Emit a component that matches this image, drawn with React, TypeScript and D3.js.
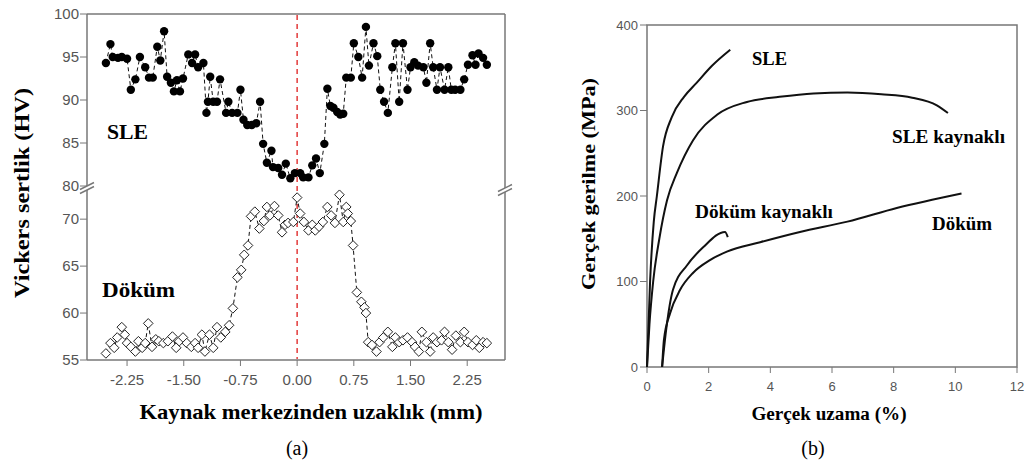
import React from 'react';
import * as d3 from 'd3';

// (a) Vickers hardness across the weld
const sleX = [-2.53,-2.47,-2.44,-2.37,-2.32,-2.25,-2.20,-2.14,-2.08,-2.01,-1.96,-1.91,-1.85,-1.81,-1.76,-1.72,-1.67,-1.63,-1.59,-1.55,-1.51,-1.44,-1.39,-1.35,-1.31,-1.24,-1.20,-1.18,-1.15,-1.11,-1.06,-1.02,-0.94,-0.91,-0.86,-0.79,-0.75,-0.71,-0.66,-0.60,-0.54,-0.49,-0.45,-0.40,-0.34,-0.32,-0.25,-0.20,-0.15,-0.09,-0.03,0.04,0.08,0.15,0.20,0.25,0.30,0.36,0.40,0.44,0.48,0.53,0.57,0.61,0.65,0.71,0.75,0.81,0.86,0.91,0.95,1.01,1.06,1.10,1.15,1.20,1.26,1.30,1.35,1.40,1.46,1.50,1.55,1.60,1.67,1.71,1.76,1.80,1.85,1.89,1.95,2.00,2.04,2.09,2.16,2.21,2.26,2.32,2.36,2.40,2.46,2.51];
const sleHV = [94.3,96.5,95.0,94.9,95.0,94.8,91.2,92.4,95.0,93.8,92.6,92.6,96.2,94.6,98.0,92.7,92.0,91.0,92.3,91.0,92.5,95.3,94.3,95.3,93.8,94.3,88.5,89.8,92.7,89.8,89.8,92.4,88.5,89.8,88.5,88.5,91.2,87.7,87.1,87.1,87.3,89.8,84.9,82.7,84.1,82.2,82.1,81.3,82.6,80.9,81.5,81.5,81.0,81.0,82.4,83.2,81.5,84.9,91.3,89.3,89.1,88.6,88.3,88.4,92.6,92.6,96.6,95.0,92.6,98.5,94.0,96.6,95.1,91.2,89.8,88.5,93.8,96.6,89.8,96.6,91.2,93.8,94.4,94.0,93.8,92.0,96.6,93.8,91.2,93.8,91.2,93.8,91.2,91.2,91.2,92.4,94.1,95.2,94.1,95.4,94.9,94.1];

const dokumX = [-2.53,-2.47,-2.42,-2.38,-2.32,-2.28,-2.25,-2.20,-2.14,-2.10,-2.05,-2.01,-1.97,-1.92,-1.87,-1.83,-1.77,-1.71,-1.65,-1.60,-1.56,-1.51,-1.46,-1.40,-1.35,-1.31,-1.26,-1.22,-1.16,-1.11,-1.06,-1.01,-0.95,-0.90,-0.85,-0.79,-0.74,-0.70,-0.65,-0.61,-0.56,-0.50,-0.44,-0.40,-0.36,-0.30,-0.25,-0.20,-0.16,-0.12,-0.05,0.00,0.04,0.09,0.15,0.20,0.24,0.29,0.34,0.40,0.45,0.50,0.56,0.61,0.65,0.67,0.71,0.74,0.79,0.85,0.89,0.91,0.94,0.99,1.05,1.09,1.14,1.20,1.26,1.30,1.35,1.40,1.46,1.52,1.56,1.61,1.65,1.71,1.76,1.80,1.85,1.91,1.95,2.00,2.05,2.10,2.16,2.21,2.26,2.32,2.37,2.41,2.46,2.51];
const dokumHV = [55.7,56.8,56.3,57.4,58.5,57.7,56.8,56.4,55.9,57.0,56.3,56.8,58.9,56.4,57.2,57.0,56.8,57.0,57.5,56.3,57.0,57.4,56.8,56.4,56.8,56.3,57.7,55.9,57.7,56.3,58.5,57.4,58.0,58.7,60.5,63.8,64.6,66.2,67.2,70.3,70.8,69.0,69.8,71.3,70.4,71.4,70.4,68.6,69.4,69.6,69.7,72.3,70.6,69.7,68.8,69.4,68.8,69.2,69.7,71.3,70.4,69.6,72.6,69.7,71.3,70.6,69.8,67.2,62.2,61.2,60.6,60.0,56.9,56.6,55.9,56.9,57.4,58.0,56.4,57.4,56.9,57.1,57.4,56.9,56.4,55.9,58.0,56.9,55.9,57.4,56.9,57.1,58.0,56.9,56.1,57.6,56.9,58.0,56.9,56.6,57.1,56.3,56.9,56.8];

const distTicks = [-2.25, -1.5, -0.75, 0, 0.75, 1.5, 2.25];
const hvUpperTicks = [80, 85, 90, 95, 100];
const hvLowerTicks = [55, 60, 65, 70];

// (b) true stress - true strain
const sleStrain = [0, 0.1, 0.22, 0.32, 0.52, 0.8, 1.2, 1.6, 2.1, 2.7];
const sleStress = [0, 100, 170, 200, 258, 292, 316, 332, 352, 371];
const sleWeldStrain = [0, 0.08, 0.2, 0.4, 0.65, 0.97, 1.49, 2.27, 3.24, 4.3, 5.4, 6.5, 7.6, 8.6, 9.4, 9.76];
const sleWeldStress = [0, 50, 100, 150, 195, 227, 265, 295, 310, 316, 320, 321, 319, 315, 306, 297];
const castWeldStrain = [0.49, 0.62, 0.84, 1.3, 1.82, 2.53, 2.62];
const castWeldStress = [0, 43, 90, 119, 140, 158, 152];
const castStrain = [0.49, 0.55, 0.75, 1.07, 1.49, 2.04, 2.59, 3.67, 4.96, 6.5, 8.1, 10.2];
const castStress = [0, 32, 63, 90, 110, 125, 135, 146, 158, 170, 186, 203];

const strainTicks = [0, 2, 4, 6, 8, 10, 12];
const stressTicks = [0, 100, 200, 300, 400];

const serif = '"Liberation Serif", "Times New Roman", serif';
const sans = '"Liberation Sans", Arial, sans-serif';
const axisGray = '#777';
const tickText = '#555';

function BreakMark({ x, y }: { x: number; y: number }) {
  return (
    <g>
      <polygon points={`${x - 6},${y + 2} ${x + 6},${y - 4} ${x + 6},${y} ${x - 6},${y + 6}`} fill="#fff" />
      <line x1={x - 7} y1={y + 2.5} x2={x + 7} y2={y - 4.5} stroke={axisGray} strokeWidth={1.5} />
      <line x1={x - 7} y1={y + 6.5} x2={x + 7} y2={y - 0.5} stroke={axisGray} strokeWidth={1.5} />
    </g>
  );
}

function HardnessChart() {
  const x = d3.scaleLinear().domain([-2.78, 2.75]).range([87, 505]);
  const yUp = d3.scaleLinear().domain([80, 100]).range([186, 14]);
  const yLow = d3.scaleLinear().domain([55, 73]).range([360, 191]);
  const [x0, x1] = x.range();

  const slePts: [number, number][] = sleX.map((d, i) => [x(d), yUp(sleHV[i])]);
  const dokPts: [number, number][] = dokumX.map((d, i) => [x(d), yLow(dokumHV[i])]);
  const line = d3.line();
  const r = 4.8;
  const diamond = `M0,${-r}L${r},0L0,${r}L${-r},0Z`;

  return (
    <g>
      {/* frame */}
      <line x1={x0} y1={14} x2={x1} y2={14} stroke={axisGray} strokeWidth={1.5} />
      <line x1={x0} y1={14} x2={x0} y2={360} stroke={axisGray} strokeWidth={1.5} />
      <line x1={x1} y1={14} x2={x1} y2={360} stroke={axisGray} strokeWidth={1.5} />
      <line x1={x0} y1={360} x2={x1} y2={360} stroke={axisGray} strokeWidth={1.5} />

      {/* x ticks */}
      {distTicks.map(t => (
        <g key={t} transform={`translate(${x(t)},360)`}>
          <line y2={6} stroke={axisGray} strokeWidth={1} />
          <text y={25} textAnchor="middle" fontFamily={sans} fontSize={15} fill={tickText}>
            {t.toFixed(2)}
          </text>
        </g>
      ))}
      {/* y ticks */}
      {hvUpperTicks.map(t => (
        <g key={'u' + t} transform={`translate(${x0},${yUp(t)})`}>
          <line x2={-7} stroke={axisGray} strokeWidth={1} />
          <text x={-8} dy="0.35em" textAnchor="end" fontFamily={sans} fontSize={15} fill={tickText}>{t}</text>
        </g>
      ))}
      {hvLowerTicks.map(t => (
        <g key={'l' + t} transform={`translate(${x0},${yLow(t)})`}>
          <line x2={-7} stroke={axisGray} strokeWidth={1} />
          <text x={-8} dy="0.35em" textAnchor="end" fontFamily={sans} fontSize={15} fill={tickText}>{t}</text>
        </g>
      ))}

      <BreakMark x={x0} y={187} />
      <BreakMark x={x1} y={189} />

      {/* center line */}
      <line x1={x(0)} y1={15} x2={x(0)} y2={359} stroke="#e23a3a" strokeWidth={1.5} strokeDasharray="5,4" />

      {/* series */}
      <path d={line(slePts) || ''} fill="none" stroke="#111" strokeWidth={1} strokeDasharray="4,3" />
      <path d={line(dokPts) || ''} fill="none" stroke="#111" strokeWidth={1} strokeDasharray="4,3" />
      {slePts.map((p, i) => (
        <circle key={'s' + i} cx={p[0]} cy={p[1]} r={4.2} fill="#000" />
      ))}
      {dokPts.map((p, i) => (
        <path key={'d' + i} d={diamond} transform={`translate(${p[0]},${p[1]})`} fill="#fff" stroke="#222" strokeWidth={1} />
      ))}

      {/* labels */}
      <text x={107} y={139} fontFamily={serif} fontWeight="bold" fontSize={20} textLength={41} lengthAdjust="spacingAndGlyphs">SLE</text>
      <text x={102} y={297} fontFamily={serif} fontWeight="bold" fontSize={20} textLength={73} lengthAdjust="spacingAndGlyphs">Döküm</text>

      <text x={311} y={419} textAnchor="middle" fontFamily={serif} fontWeight="bold" fontSize={21} textLength={343} lengthAdjust="spacingAndGlyphs">
        Kaynak merkezinden uzaklık (mm)
      </text>
      <text transform="translate(29,193) rotate(-90)" textAnchor="middle" fontFamily={serif} fontWeight="bold" fontSize={21} textLength={210} lengthAdjust="spacingAndGlyphs">
        Vickers sertlik (HV)
      </text>
      <text x={297} y={455} textAnchor="middle" fontFamily={serif} fontSize={20}>(a)</text>
    </g>
  );
}

function TensileChart() {
  const x = d3.scaleLinear().domain([0, 12]).range([647, 1017]);
  const y = d3.scaleLinear().domain([0, 400]).range([367, 25]);
  const [x0, x1] = x.range();
  const [yb, yt] = y.range();
  const line = d3.line().curve(d3.curveMonotoneX);
  const mk = (xs: number[], ys: number[]) => line(xs.map((d, i) => [x(d), y(ys[i])] as [number, number])) || '';

  return (
    <g>
      <rect x={x0} y={yt} width={x1 - x0} height={yb - yt} fill="none" stroke={axisGray} strokeWidth={1.5} />
      {strainTicks.map(t => (
        <g key={t} transform={`translate(${x(t)},${yb})`}>
          <line y2={6} stroke={axisGray} strokeWidth={1} />
          <text y={24} textAnchor="middle" fontFamily={sans} fontSize={13} fill={tickText}>{t}</text>
        </g>
      ))}
      {stressTicks.map(t => (
        <g key={t} transform={`translate(${x0},${y(t)})`}>
          <line x2={-7} stroke={axisGray} strokeWidth={1} />
          <text x={-9} dy="0.35em" textAnchor="end" fontFamily={sans} fontSize={13} fill={tickText}>{t}</text>
        </g>
      ))}

      <path d={mk(sleStrain, sleStress)} fill="none" stroke="#111" strokeWidth={2} />
      <path d={mk(sleWeldStrain, sleWeldStress)} fill="none" stroke="#111" strokeWidth={2} />
      <path d={mk(castWeldStrain, castWeldStress)} fill="none" stroke="#111" strokeWidth={2} />
      <path d={mk(castStrain, castStress)} fill="none" stroke="#111" strokeWidth={2} />

      <text x={752} y={65} fontFamily={serif} fontWeight="bold" fontSize={18} textLength={35} lengthAdjust="spacingAndGlyphs">SLE</text>
      <text x={892} y={143} fontFamily={serif} fontWeight="bold" fontSize={18} textLength={113} lengthAdjust="spacingAndGlyphs">SLE kaynaklı</text>
      <text x={695} y={218} fontFamily={serif} fontWeight="bold" fontSize={18} textLength={138} lengthAdjust="spacingAndGlyphs">Döküm kaynaklı</text>
      <text x={932} y={230} fontFamily={serif} fontWeight="bold" fontSize={18} textLength={60} lengthAdjust="spacingAndGlyphs">Döküm</text>

      <text x={829} y={420} textAnchor="middle" fontFamily={serif} fontWeight="bold" fontSize={18} textLength={155} lengthAdjust="spacingAndGlyphs">
        Gerçek uzama (%)
      </text>
      <text transform="translate(595,184) rotate(-90)" textAnchor="middle" fontFamily={serif} fontWeight="bold" fontSize={19} textLength={212} lengthAdjust="spacingAndGlyphs">
        Gerçek gerilme (MPa)
      </text>
      <text x={813} y={455} textAnchor="middle" fontFamily={serif} fontSize={20}>(b)</text>
    </g>
  );
}

export default function App() {
  return (
    <svg width={1027} height={462} style={{ position: 'absolute', left: 0, top: 0, background: '#fff' }}>
      <HardnessChart />
      <TensileChart />
    </svg>
  );
}
